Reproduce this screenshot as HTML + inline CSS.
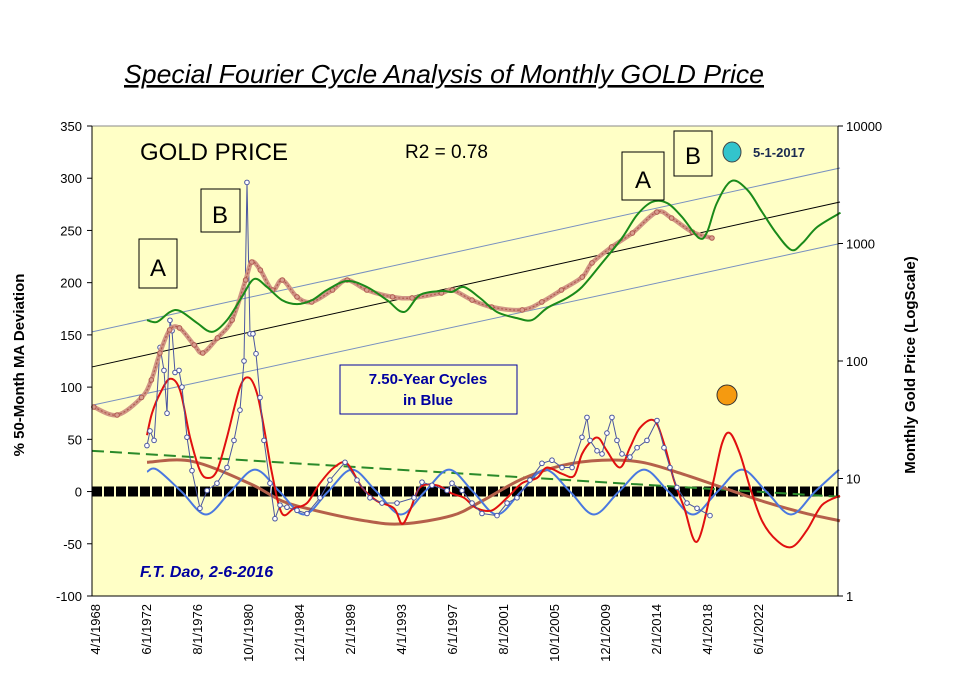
<!DOCTYPE html>
<html><head><meta charset="utf-8"><style>
html,body{margin:0;padding:0;background:#fff;}
svg{display:block;font-family:"Liberation Sans",Arial,sans-serif;}
</style></head><body>
<svg id="chart" width="960" height="686" viewBox="0 0 960 686">
<text x="444" y="83" font-size="26" font-style="italic" text-anchor="middle" text-decoration="underline" textLength="640" lengthAdjust="spacingAndGlyphs">Special Fourier Cycle Analysis of Monthly GOLD Price</text>
<rect x="92" y="126" width="746" height="470" fill="#ffffc6" stroke="#888" stroke-width="1"/>
<g id="grid"></g>
<g id="series"></g>
<line x1="92" y1="126" x2="92" y2="596" stroke="#000"/>
<line x1="838" y1="126" x2="838" y2="596" stroke="#000"/>
<line x1="92" y1="596" x2="838" y2="596" stroke="#000"/>
<g id="axes"></g>
<text transform="translate(24,365) rotate(-90)" font-size="15" font-weight="bold" text-anchor="middle">% 50-Month MA Deviation</text>
<text transform="translate(915,365) rotate(-90)" font-size="15" font-weight="bold" text-anchor="middle">Monthly Gold Price (LogScale)</text>
<text x="140" y="160" font-size="24">GOLD PRICE</text>
<text x="405" y="158" font-size="19">R2 = 0.78</text>
<rect x="139" y="239" width="38" height="49" fill="#ffffc6" stroke="#000"/>
<text x="158" y="276" font-size="24" text-anchor="middle">A</text>
<rect x="201" y="189" width="39" height="43" fill="#ffffc6" stroke="#000"/>
<text x="220" y="223" font-size="24" text-anchor="middle">B</text>
<rect x="622" y="152" width="42" height="48" fill="#ffffc6" stroke="#000"/>
<text x="643" y="188" font-size="24" text-anchor="middle">A</text>
<rect x="674" y="131" width="38" height="45" fill="#ffffc6" stroke="#000"/>
<text x="693" y="164" font-size="24" text-anchor="middle">B</text>
<ellipse cx="732" cy="152" rx="9" ry="10" fill="#33c4cc" stroke="#444"/>
<text x="753" y="157" font-size="13" font-weight="bold" fill="#1a2a50">5-1-2017</text>
<circle cx="727" cy="395" r="10" fill="#f59a10" stroke="#333"/>
<rect x="340" y="365" width="177" height="49" fill="#ffffc6" stroke="#0000a0"/>
<text x="428" y="384" font-size="15" font-weight="bold" fill="#0000a0" text-anchor="middle">7.50-Year  Cycles</text>
<text x="428" y="405" font-size="15" font-weight="bold" fill="#0000a0" text-anchor="middle">in Blue</text>
<text x="140" y="577" font-size="16" font-weight="bold" font-style="italic" fill="#0000a0">F.T. Dao, 2-6-2016</text>
</svg>
<script>
// ---- data ----
const xLabels = ["4/1/1968","6/1/1972","8/1/1976","10/1/1980","12/1/1984","2/1/1989","4/1/1993","6/1/1997","8/1/2001","10/1/2005","12/1/2009","2/1/2014","4/1/2018","6/1/2022"];
const leftTicks = [350,300,250,200,150,100,50,0,-50,-100];
const rightTicks = [10000,1000,100,10,1];
const priceYears = [1968.4,1970.3,1972.3,1973.1,1973.8,1974.6,1975.4,1976.6,1977.3,1978.5,1979.7,1980.8,1981.3,1982.0,1983.0,1983.8,1985.0,1986.2,1987.9,1989.1,1990.7,1992.8,1994.4,1996.8,1997.7,1999.3,2000.9,2003.4,2005.0,2006.6,2008.3,2009.1,2010.7,2012.4,2014.4,2015.6,2017.3,2018.9];
const priceValues = [40.6,34.7,49,69,117,184,191,137,117,157,223,489,696,595,402,489,351,318,402,489,402,351,344,379,402,330,288,272,318,402,518,683,934,1228,1853,1648,1252,1114];
const fitYears = [1972.74,1973.56,1974.62,1975.44,1976.83,1978.05,1979.28,1980.5,1981.49,1982.55,1983.77,1985.0,1986.23,1987.45,1989.08,1990.72,1992.35,1993.74,1995.05,1996.85,1997.66,1998.64,1999.95,2001.34,2002.97,2004.2,2005.42,2007.06,2008.28,2009.92,2011.55,2012.78,2014.0,2015.23,2016.45,2017.84,2018.5,2019.3,2020.5,2021.8,2023.0,2024.2,2025.4,2026.3,2027.5,2029.4];
const fitValues = [223,215,261,267,211,177,223,351,499,426,330,305,330,402,480,426,330,261,365,394,387,426,344,261,232,223,282,344,426,683,1114,1749,2254,2213,1683,1114,1252,2213,3404,2851,1853,1206,881,1009,1381,1829];
const regYears = [1968.25,2029.36];
const regCenter = [89,2254];
const regUpper = [177,4393];
const regLower = [42,1000];
const devYears = [1972.74,1972.99,1973.32,1973.81,1974.13,1974.38,1974.62,1974.79,1975.03,1975.36,1975.6,1976.01,1976.42,1977.07,1977.65,1978.46,1979.28,1979.85,1980.34,1980.67,1980.91,1981.16,1981.4,1981.65,1981.98,1982.3,1982.79,1983.2,1983.61,1984.18,1985.0,1985.82,1986.88,1987.69,1988.92,1989.9,1990.96,1991.94,1993.17,1994.56,1995.21,1996.03,1997.25,1997.66,1998.48,1999.3,2000.11,2001.34,2002.16,2002.97,2004.03,2005.01,2005.83,2006.65,2007.47,2008.28,2008.69,2008.94,2009.51,2009.92,2010.32,2010.73,2011.14,2011.55,2012.2,2012.78,2013.59,2014.41,2014.98,2015.47,2016.04,2016.86,2017.68,2018.74];
const devValues = [44,58,49,138,116,75,164,154,114,116,100,52,20,-16,1,8,23,49,78,125,296,151,151,132,90,49,8,-26,-13,-15,-18,-21,-6,11,28,11,-6,-11,-11,-6,9,6,1,8,1,-11,-21,-23,-11,-6,11,27,30,23,23,52,71,49,39,36,56,71,49,36,33,42,49,68,42,23,4,-11,-16,-23];
const redYears = [1972.74,1973.15,1973.81,1974.62,1975.44,1976.26,1977.07,1977.73,1978.46,1979.28,1980.34,1981.08,1981.73,1982.3,1982.96,1983.77,1984.75,1985.82,1986.88,1988.02,1989.08,1990.31,1991.53,1992.92,1993.58,1994.23,1995.05,1996.44,1997.66,1998.64,1999.7,2000.93,2002.16,2003.38,2004.61,2005.42,2006.65,2007.63,2008.28,2009.1,2009.67,2010.32,2011.39,2012.2,2013.02,2014.17,2014.98,2015.8,2016.62,2017.68,2018.9,2019.72,2020.37,2021.19,2022.01,2022.99,2024.21,2025.44,2026.66,2027.89,2029.36];
const redValues = [54,75,94,108,97,52,20,13,20,52,100,109,94,61,17,-21,-16,-11,8,23,27,4,-9,-16,-31,-18,4,6,-2,-6,-16,-18,-6,8,13,23,17,15,36,49,51,39,23,42,61,68,46,11,-15,-48,4,46,56,36,4,-28,-47,-53,-37,-13,-4];
const cycleYears = [1972.74,1973.56,1975.56,1977.56,1979.56,1981.57,1983.57,1985.57,1987.53,1989.49,1991.49,1993.49,1995.45,1997.42,1999.38,2001.34,2003.3,2005.26,2007.3,2009.26,2011.3,2013.35,2015.35,2017.35,2019.35,2021.35,2023.35,2025.36,2027.32,2029.28];
const cycleValues = [19,21,0,-22,0,21,0,-22,0,21,0,-22,0,21,0,-22,0,21,0,-22,0,21,0,-22,0,21,0,-22,0,21];
const longYears = [1972.74,1976.42,1981.08,1983.77,1986.47,1990.55,1993.58,1997.66,2000.11,2003.38,2006.65,2009.92,2013.19,2016.45,2019.72,2022.99,2026.26,2029.36];
const longValues = [28,29,8,-9,-18,-28,-31,-23,-9,12,25,30,28,17,4,-9,-20,-28];
const trendYears = [1968.25,2029.36];
const trendValues = [39,-5];

// ---- scales ----
const X0=92, X1=838, Y0=126, Y1=596;
function xOf(yr){ return X0 + (yr-1968.25)*12.24; }
function yL(v){ return Y1 - (v+100)/450*(Y1-Y0); }
function yR(p){ return Y1 - Math.log10(p)/4*(Y1-Y0); }
const NS='http://www.w3.org/2000/svg';
function mk(tag, parent){ const e=document.createElementNS(NS,tag); parent.appendChild(e); return e; }
function spline(pts){
  if(pts.length<3) return 'M'+pts.map(p=>p[0].toFixed(1)+','+p[1].toFixed(1)).join('L');
  let d='M'+pts[0][0].toFixed(1)+','+pts[0][1].toFixed(1);
  for(let i=0;i<pts.length-1;i++){
    const p0=pts[i-1]||pts[i], p1=pts[i], p2=pts[i+1], p3=pts[i+2]||p2;
    const c1=[p1[0]+(p2[0]-p0[0])/6, p1[1]+(p2[1]-p0[1])/6];
    const c2=[p2[0]-(p3[0]-p1[0])/6, p2[1]-(p3[1]-p1[1])/6];
    d+='C'+c1[0].toFixed(1)+','+c1[1].toFixed(1)+' '+c2[0].toFixed(1)+','+c2[1].toFixed(1)+' '+p2[0].toFixed(1)+','+p2[1].toFixed(1);
  }
  return d;
}
const axes=document.getElementById('axes');
const series=document.getElementById('series');

leftTicks.forEach(v=>{
  const y=yL(v);
  const t=mk('line',axes); t.setAttribute('x1',X0-5); t.setAttribute('x2',X0); t.setAttribute('y1',y); t.setAttribute('y2',y); t.setAttribute('stroke','#000');
   
  const l=mk('text',axes); l.setAttribute('x',X0-10); l.setAttribute('y',y+5); l.setAttribute('font-size','13'); l.setAttribute('text-anchor','end'); l.textContent=v;
   
});
rightTicks.forEach(v=>{
  const y=yR(v);
  const t=mk('line',axes); t.setAttribute('x1',X1); t.setAttribute('x2',X1+5); t.setAttribute('y1',y); t.setAttribute('y2',y); t.setAttribute('stroke','#000');
   
  const l=mk('text',axes); l.setAttribute('x',X1+8); l.setAttribute('y',y+5); l.setAttribute('font-size','13'); l.textContent=v;
   
});
xLabels.forEach((s,i)=>{
  const x=X0+3+i*51;
  const l=mk('text',axes); l.setAttribute('transform','translate('+(x+5)+',604) rotate(-90)'); l.setAttribute('font-size','13'); l.setAttribute('text-anchor','end'); l.textContent=s;
   
});

function path(d,stroke,w,name,extra){
  const p=mk('path',series); p.setAttribute('d',d); p.setAttribute('fill','none'); p.setAttribute('stroke',stroke); p.setAttribute('stroke-width',w);
  if(extra) for(const k in extra) p.setAttribute(k,extra[k]);
   
  return p;
}
path('M'+xOf(regYears[0])+','+yR(regUpper[0])+'L'+xOf(regYears[1])+','+yR(regUpper[1]),'#7890c0',1,'regression-upper');
path('M'+xOf(regYears[0])+','+yR(regCenter[0])+'L'+xOf(regYears[1])+','+yR(regCenter[1]),'#000',1,'regression-center');
path('M'+xOf(regYears[0])+','+yR(regLower[0])+'L'+xOf(regYears[1])+','+yR(regLower[1]),'#7890c0',1,'regression-lower');
path('M'+X0+','+yL(0)+'L'+X1+','+yL(0),'#000',10,'zero-line',{'stroke-dasharray':'10 2'});
path('M'+xOf(trendYears[0])+','+yL(trendValues[0])+'L'+xOf(trendYears[1])+','+yL(trendValues[1]),'#2a8a2a',2,'trend-line',{'stroke-dasharray':'12 6'});
path(spline(longYears.map((y,i)=>[xOf(y),yL(longValues[i])])),'#b5604a',3,'long-cycle-curve');
path(spline(cycleYears.map((y,i)=>[xOf(y),yL(cycleValues[i])])),'#4a78e0',2,'cycle-7-5-year');
path(spline(redYears.map((y,i)=>[xOf(y),yL(redValues[i])])),'#e01010',2,'composite-cycle-red');
const devPts=devYears.map((y,i)=>[xOf(y),yL(devValues[i])]);
path('M'+devPts.map(p=>p[0].toFixed(1)+','+p[1].toFixed(1)).join('L'),'#4a55a0',1,'deviation-line');
devPts.forEach(p=>{
  const c=mk('circle',series); c.setAttribute('cx',p[0]); c.setAttribute('cy',p[1]); c.setAttribute('r',2.3); c.setAttribute('fill','#fff'); c.setAttribute('stroke','#4a55a0'); c.setAttribute('stroke-width','1');
   
});
const prPts=priceYears.map((y,i)=>[xOf(y),yR(priceValues[i])]);
path(spline(prPts),'#d09585',4.5,'gold-price-band');
path(spline(prPts),'#b05a50',1.2,'gold-price-line',{'stroke-dasharray':'2 2'});
prPts.forEach(p=>{
  const c=mk('circle',series); c.setAttribute('cx',p[0]); c.setAttribute('cy',p[1]); c.setAttribute('r',2.3); c.setAttribute('fill','#d9a090'); c.setAttribute('stroke','#b05a50');
   
});
path(spline(fitYears.map((y,i)=>[xOf(y),yR(fitValues[i])])),'#1a8a1a',2,'fourier-fit-curve');
</script>
</body></html>
